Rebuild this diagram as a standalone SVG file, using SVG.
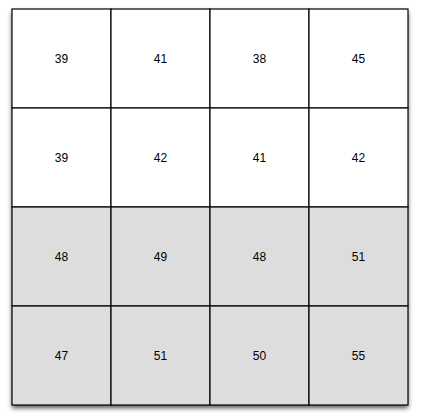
<svg xmlns="http://www.w3.org/2000/svg" width="423" height="418" viewBox="0 0 423 418">
<defs>
<filter id="sh" x="-10%" y="-10%" width="120%" height="120%">
<feGaussianBlur in="SourceAlpha" stdDeviation="2.5"/>
<feOffset dx="0" dy="3" result="b"/>
<feComponentTransfer><feFuncA type="linear" slope="0.7"/></feComponentTransfer>
<feMerge><feMergeNode/><feMergeNode in="SourceGraphic"/></feMerge>
</filter>
<style>
.c{stroke:#000;stroke-width:1.2}
.w{fill:#ffffff}
.g{fill:#dddddd}
text{font-family:"Liberation Sans",Arial,sans-serif;font-size:12px;fill:#000;text-anchor:middle;dominant-baseline:central}
</style>
</defs>
<rect x="12" y="9" width="396" height="396" fill="#fff" filter="url(#sh)"/>
<g id="r1c1"><rect class="c w" x="12" y="9" width="99" height="99"/><text x="61.5" y="59">39</text></g>
<g id="r1c2"><rect class="c w" x="111" y="9" width="99" height="99"/><text x="160.5" y="59">41</text></g>
<g id="r1c3"><rect class="c w" x="210" y="9" width="99" height="99"/><text x="259.5" y="59">38</text></g>
<g id="r1c4"><rect class="c w" x="309" y="9" width="99" height="99"/><text x="358.5" y="59">45</text></g>
<g id="r2c1"><rect class="c w" x="12" y="108" width="99" height="99"/><text x="61.5" y="158">39</text></g>
<g id="r2c2"><rect class="c w" x="111" y="108" width="99" height="99"/><text x="160.5" y="158">42</text></g>
<g id="r2c3"><rect class="c w" x="210" y="108" width="99" height="99"/><text x="259.5" y="158">41</text></g>
<g id="r2c4"><rect class="c w" x="309" y="108" width="99" height="99"/><text x="358.5" y="158">42</text></g>
<g id="r3c1"><rect class="c g" x="12" y="207" width="99" height="99"/><text x="61.5" y="257">48</text></g>
<g id="r3c2"><rect class="c g" x="111" y="207" width="99" height="99"/><text x="160.5" y="257">49</text></g>
<g id="r3c3"><rect class="c g" x="210" y="207" width="99" height="99"/><text x="259.5" y="257">48</text></g>
<g id="r3c4"><rect class="c g" x="309" y="207" width="99" height="99"/><text x="358.5" y="257">51</text></g>
<g id="r4c1"><rect class="c g" x="12" y="306" width="99" height="99"/><text x="61.5" y="356">47</text></g>
<g id="r4c2"><rect class="c g" x="111" y="306" width="99" height="99"/><text x="160.5" y="356">51</text></g>
<g id="r4c3"><rect class="c g" x="210" y="306" width="99" height="99"/><text x="259.5" y="356">50</text></g>
<g id="r4c4"><rect class="c g" x="309" y="306" width="99" height="99"/><text x="358.5" y="356">55</text></g>
<g id="connectors"></g>
</svg>
